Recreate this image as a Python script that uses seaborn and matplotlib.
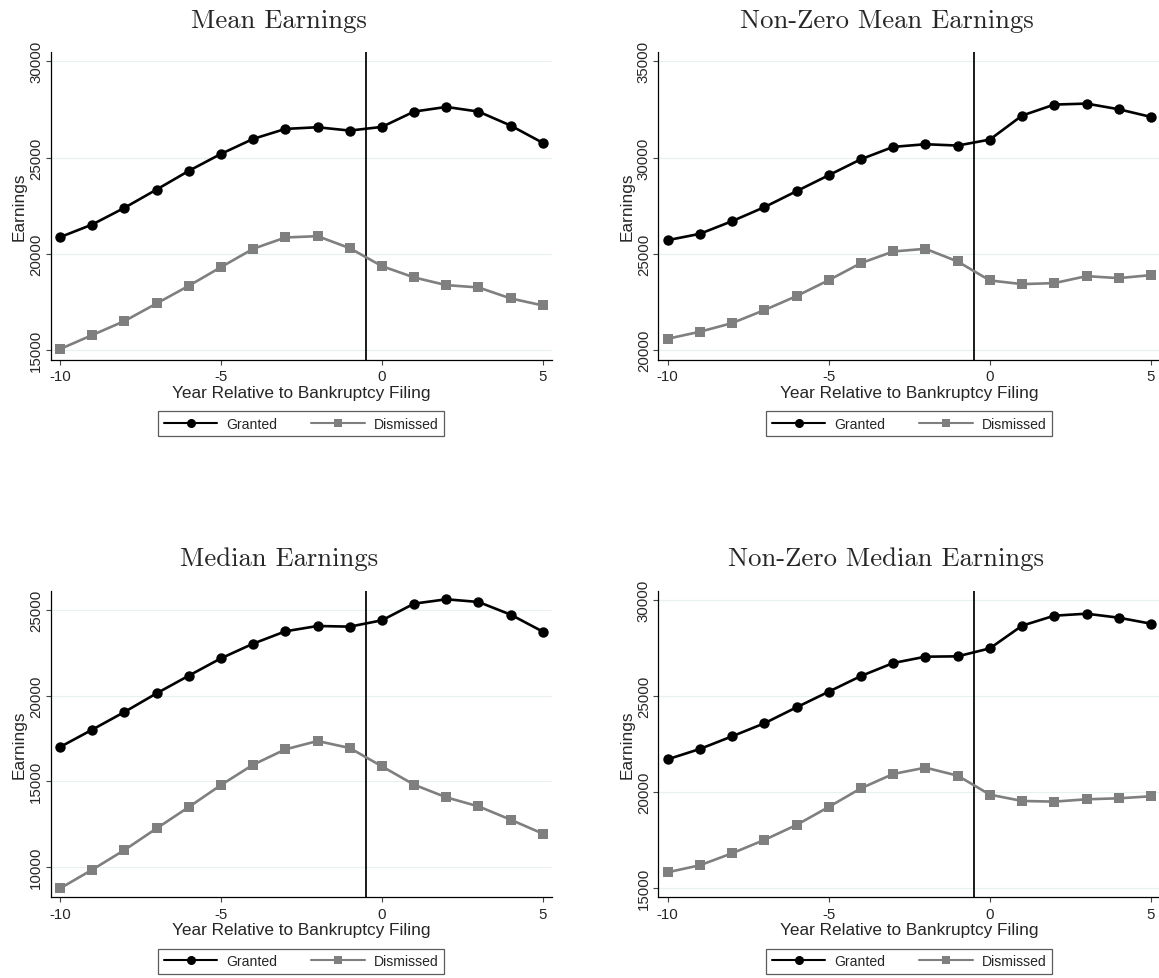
import matplotlib
matplotlib.use("Agg")
import matplotlib.pyplot as plt
from matplotlib.lines import Line2D
import numpy as np
import pandas as pd
import seaborn as sns

years = list(range(-10, 6))

mean_granted = [20865, 21522, 22388, 23339, 24308, 25190, 25969, 26488, 26574, 26401,
                26592, 27388, 27630, 27388, 26661, 25761]
mean_dismissed = [15052, 15779, 16505, 17422, 18339, 19308, 20260, 20848, 20917, 20294,
                  19360, 18772, 18374, 18253, 17682, 17318]

nz_mean_granted = [25709, 26038, 26696, 27422, 28253, 29083, 29913, 30554, 30692, 30623,
                   30934, 32180, 32751, 32803, 32509, 32111]
nz_mean_dismissed = [20588, 20952, 21401, 22076, 22803, 23633, 24516, 25121, 25260, 24602,
                     23616, 23426, 23478, 23841, 23737, 23893]

median_granted = [17002, 18016, 19050, 20142, 21176, 22191, 23049, 23771, 24083, 24044,
                  24415, 25390, 25644, 25488, 24746, 23751]
median_dismissed = [8730, 9823, 10973, 12241, 13490, 14778, 15968, 16865, 17353, 16943,
                    15870, 14797, 14056, 13529, 12749, 11929]

nz_median_granted = [21704, 22241, 22899, 23575, 24406, 25220, 26034, 26709, 27038, 27056,
                     27471, 28649, 29169, 29273, 29065, 28753]
nz_median_dismissed = [15833, 16197, 16820, 17513, 18292, 19228, 20198, 20942, 21271, 20856,
                       19868, 19539, 19505, 19626, 19678, 19782]

titles = ["Mean Earnings", "Non-Zero Mean Earnings", "Median Earnings", "Non-Zero Median Earnings"]
yticks_list = [[15000, 20000, 25000, 30000], [20000, 25000, 30000, 35000],
               [10000, 15000, 20000, 25000], [15000, 20000, 25000, 30000]]
ylims = [(14500, 30467), (19500, 35467), (8209, 26147), (14532, 30468)]
series = [(mean_granted, mean_dismissed), (nz_mean_granted, nz_mean_dismissed),
          (median_granted, median_dismissed), (nz_median_granted, nz_median_dismissed)]
xticks = [-10, -5, 0, 5]
filing_line = -0.5
groups = ["Granted", "Dismissed"]

sns.set_theme(style="white")
plt.rcParams['font.family'] = ['Liberation Sans', 'DejaVu Sans']

W, H = 1159, 979
fig = plt.figure(figsize=(W / 100, H / 100), dpi=100)
fig.patch.set_facecolor("white")

# axes boxes in pixel coords: left, top, width, height
boxes = [(50.7, 53.3, 501.5, 307.4), (658.3, 53.3, 502.0, 307.4),
         (50.7, 591.7, 501.5, 306.6), (658.3, 591.7, 502.0, 306.6)]
# title anchor (centre x, baseline y) in pixels
title_pos = [(279.0, 28.3), (886.5, 28.3), (279.3, 566.0), (886.5, 566.0)]

palette = {"Granted": "#000000", "Dismissed": "#7f7f7f"}
markers = {"Granted": "o", "Dismissed": "s"}

for i, (title, (g, d)) in enumerate(zip(titles, series)):
    l, t, w, h = boxes[i]
    ax = fig.add_axes([l / W, 1 - (t + h) / H, w / W, h / H])
    df = pd.DataFrame({
        "year": years * 2,
        "earnings": g + d,
        "group": ["Granted"] * len(years) + ["Dismissed"] * len(years),
    })
    ax.axvline(filing_line, color="#1a1a1a", lw=1.4, zorder=1)
    sns.lineplot(data=df, x="year", y="earnings", hue="group", style="group",
                 hue_order=groups, style_order=groups,
                 palette=palette, markers=markers, dashes=False,
                 markersize=7.5, markeredgewidth=0, linewidth=1.9,
                 legend=False, ax=ax, zorder=3)
    ax.set_xlim(-10.29, 5.29)
    ax.set_ylim(*ylims[i])
    ax.set_xticks(xticks)
    ax.set_xticklabels([str(x) for x in xticks])
    ax.set_yticks(yticks_list[i])
    ax.set_yticklabels([str(y) for y in yticks_list[i]], rotation=90, va="center")
    ax.yaxis.grid(True, color="#e8f0f1", lw=0.9)
    ax.xaxis.grid(False)
    for s in ["top", "right"]:
        ax.spines[s].set_visible(False)
    for s in ["left", "bottom"]:
        ax.spines[s].set_color("#000000")
        ax.spines[s].set_linewidth(0.9)
    ax.tick_params(axis="both", which="major", direction="out", length=3.8,
                   width=0.8, color="#444444", labelsize=10.8,
                   left=True, bottom=True)
    ax.tick_params(axis="x", pad=3.0)
    ax.tick_params(axis="y", pad=1.5)
    ax.set_xlabel("Year Relative to Bankruptcy Filing", fontsize=12.4, labelpad=1.0)
    ax.set_ylabel("Earnings", fontsize=12.4, labelpad=2.0)
    tx, ty = title_pos[i]
    fig.text(tx / W, 1 - ty / H, title, fontfamily="cmr10", fontsize=19.2,
             ha="center", va="baseline")

    handles = [
        Line2D([0], [0], color="#000000", lw=1.5, marker="o", markersize=6.5, markeredgewidth=0),
        Line2D([0], [0], color="#7f7f7f", lw=1.5, marker="s", markersize=6, markeredgewidth=0),
    ]
    leg = ax.legend(handles, groups, loc="center", bbox_to_anchor=(0.5, -0.2085),
                    ncol=2, frameon=True, fancybox=False, edgecolor="#333333",
                    fontsize=10.1, handlelength=3.8, handletextpad=0.67,
                    columnspacing=2.4, borderpad=0.4, borderaxespad=0)
    leg.get_frame().set_linewidth(0.9)

fig.savefig("out.png", dpi=100, facecolor="white")
